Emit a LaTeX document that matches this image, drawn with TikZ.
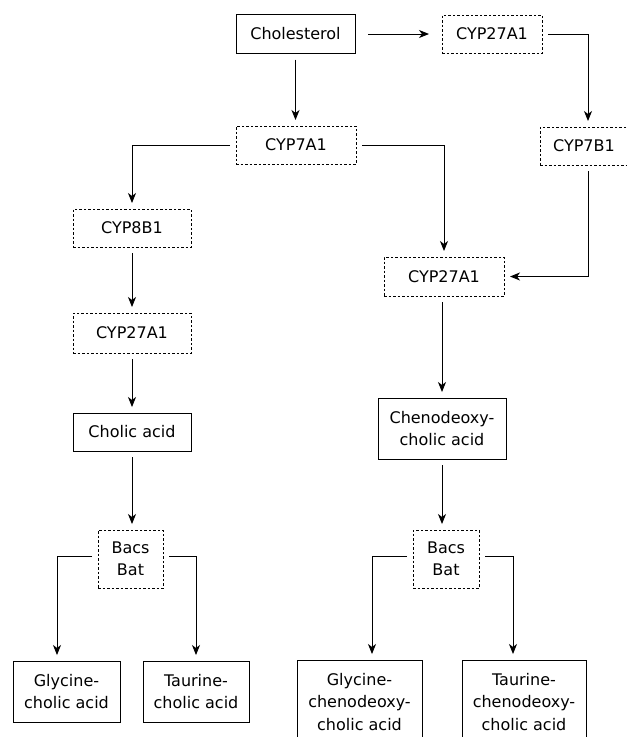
\documentclass[tikz,border=0pt]{standalone}
\usepackage{fontspec}
\setmainfont{DejaVu Sans}
\usetikzlibrary{arrows.meta}
\begin{document}
\begin{tikzpicture}[x=1pt,y=-1pt,
  box/.style={draw, line width=0.9pt, inner sep=0pt, outer sep=6pt, align=center,
    font=\fontsize{16}{22.5}\selectfont},
  solidbox/.style={box},
  dashbox/.style={box, dash pattern=on 2.5pt off 2pt},
  conn/.style={line width=0.9pt, -{Stealth[length=10pt,width=8pt,inset=3pt]}}]
\useasboundingbox (0,0) rectangle (627,737);
\clip (0,0) rectangle (627,737);

\node[solidbox, minimum width=119pt, minimum height=39pt] (chol) at (295.5,34) {Cholesterol};
\node[dashbox, minimum width=100pt, minimum height=38pt] (c27t) at (492,34) {CYP27A1};
\node[dashbox, minimum width=120pt, minimum height=38pt] (c7a) at (296,145) {CYP7A1};
\node[dashbox, minimum width=96pt, minimum height=38pt] (c7b) at (588,146) {\hspace*{-8pt}CYP7B1};
\node[dashbox, minimum width=118pt, minimum height=38pt] (c8b) at (132,228) {CYP8B1};
\node[dashbox, minimum width=118pt, minimum height=40pt] (c27l) at (132,333) {CYP27A1};
\node[solidbox, minimum width=118pt, minimum height=38pt] (cholic) at (132,432) {Cholic acid};
\node[dashbox, minimum width=120pt, minimum height=39pt] (c27m) at (444,276.5) {CYP27A1};
\node[solidbox, minimum width=128pt, minimum height=61pt] (cheno) at (442,428.5) {Chenodeoxy-\\cholic acid};
\node[dashbox, minimum width=65pt, minimum height=58pt] (bacsL) at (130.5,559) {Bacs\\Bat};
\node[dashbox, minimum width=66pt, minimum height=58pt] (bacsR) at (446,559) {Bacs\\Bat};
\node[solidbox, minimum width=107pt, minimum height=61pt] (glyc) at (66.5,691.5) {Glycine-\\cholic acid};
\node[solidbox, minimum width=106pt, minimum height=61pt] (taurc) at (196,691.5) {Taurine-\\cholic acid};
\node[solidbox, minimum width=125pt, minimum height=84pt] (glycc) at (359.5,702) {Glycine-\\chenodeoxy-\\cholic acid};
\node[solidbox, minimum width=124pt, minimum height=84pt] (taurcc) at (524,702) {Taurine-\\chenodeoxy-\\cholic acid};

\coordinate (xg1) at (57,0);
\coordinate (xg2) at (372,0);
\coordinate (xt2) at (513,0);

\draw[conn] ([xshift=7pt]chol.east) -- ([xshift=-7pt]chol.east -| c27t.west);
\draw[conn] (chol.south) -- (chol.south |- c7a.north);
\draw[conn] (c27t.east) -| (c7b.north);
\draw[conn] (c7a.west) -| (c8b.north);
\draw[conn] (c7a.east) -| (c27m.north);
\draw[conn] (c7b.south) |- (c27m.east);
\draw[conn] (c8b.south) -- (c27l.north);
\draw[conn] (c27l.south) -- (cholic.north);
\draw[conn] (cholic.south) -- (cholic.south |- bacsL.north);
\draw[conn] (c27m.south -| cheno.north) -- (cheno.north);
\draw[conn] (cheno.south) -- (cheno.south |- bacsR.north);
\draw[conn] ([yshift=3pt]bacsL.west) -| (xg1 |- glyc.north);
\draw[conn] ([yshift=3pt]bacsL.east) -| (taurc.north);
\draw[conn] ([yshift=3pt]bacsR.west) -| (xg2 |- glycc.north);
\draw[conn] ([yshift=3pt]bacsR.east) -| (xt2 |- taurcc.north);
\end{tikzpicture}
\end{document}
